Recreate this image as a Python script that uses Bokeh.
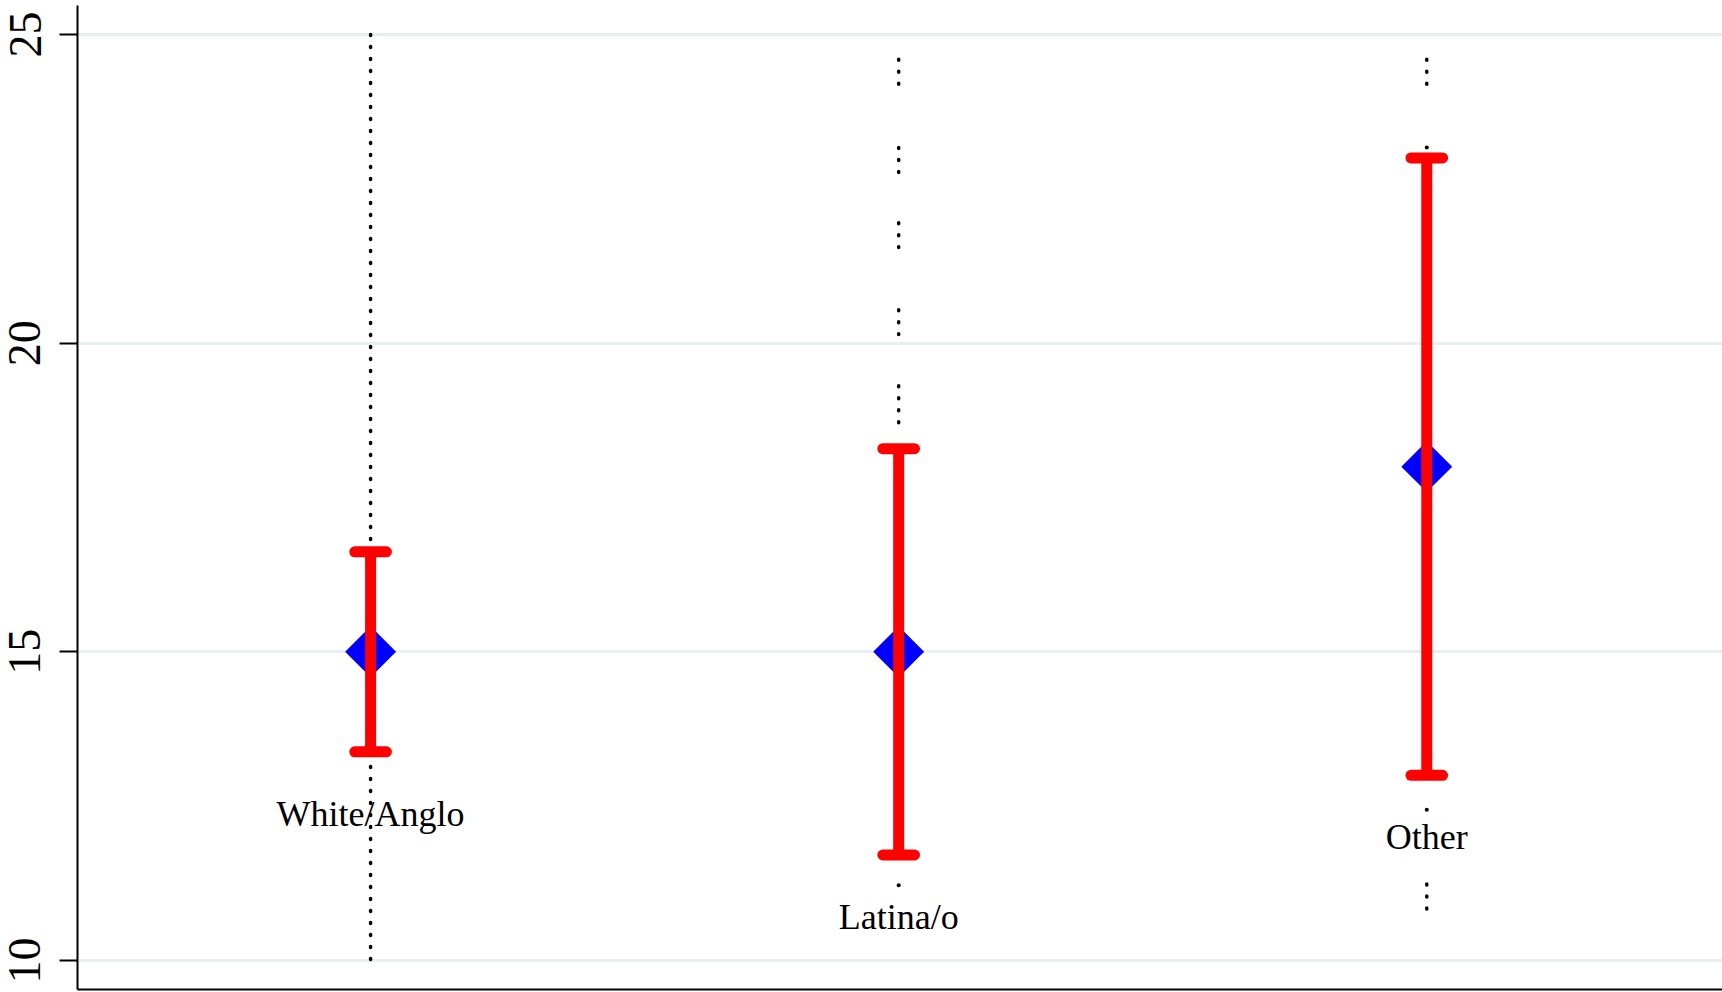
import math
from bokeh.plotting import figure
from bokeh.models import Range1d, FixedTicker, ColumnDataSource
from bokeh.core.properties import value
from bokeh.embed import file_html
from bokeh.resources import INLINE

# group means with 95% confidence bounds
groups = ["White/Anglo", "Latina/o", "Other"]
means = [15.0, 15.0, 18.0]
ci_low = [13.38, 11.71, 13.0]
ci_high = [16.62, 18.29, 23.0]

# dotted runs behind each group (top and bottom of each run)
run_group = [0, 1, 1, 1, 1, 1, 1, 2, 2, 2, 2]
run_top = [25.0, 24.6, 23.17, 21.95, 20.54, 19.31, 11.22, 24.6, 23.17, 12.44, 11.24]
run_bottom = [10.0, 24.19, 22.76, 21.55, 20.14, 18.70, 11.22, 24.19, 23.17, 12.44, 10.80]

y_ticks = [10, 15, 20, 25]

SERIF = "Liberation Serif"
CAP_HALF = 0.03
LABEL_DROP = 1.0

xpos = [i + 1 for i in range(len(groups))]

p = figure(width=1722, height=992, output_backend="svg", toolbar_location=None,
           x_range=Range1d(0.445, 3.56), y_range=Range1d(9.53, 25.47),
           min_border_left=77, min_border_right=0, min_border_top=5, min_border_bottom=3)
p.outline_line_color = None
p.background_fill_color = "white"
p.border_fill_color = "white"

# bottom axis: plain line, no ticks or labels
p.xaxis.ticker = FixedTicker(ticks=[])
p.xaxis.major_tick_out = 0
p.xaxis.major_tick_in = 0
p.xaxis.major_label_standoff = 0
p.xaxis.minor_tick_line_color = None
p.xaxis.axis_line_width = 2
p.xaxis.axis_line_color = "black"
p.xgrid.visible = False

# left axis
p.yaxis.ticker = FixedTicker(ticks=y_ticks)
p.yaxis.minor_tick_line_color = None
p.yaxis.major_tick_out = 18
p.yaxis.major_tick_in = 0
p.yaxis.major_tick_line_width = 2
p.yaxis.major_tick_line_color = "black"
p.yaxis.axis_line_width = 2
p.yaxis.axis_line_color = "black"
p.yaxis.major_label_orientation = "vertical"
p.yaxis.major_label_text_font = SERIF
p.yaxis.major_label_text_font_size = "46px"
p.yaxis.major_label_text_color = "black"
p.yaxis.major_label_standoff = 19
p.ygrid.ticker = FixedTicker(ticks=y_ticks)
p.ygrid.grid_line_color = "#e8eff0"
p.ygrid.grid_line_width = 3

# dotted runs
seg_x, seg_top, seg_bot, dot_x, dot_y = [], [], [], [], []
for g, t, b in zip(run_group, run_top, run_bottom):
    if t == b:
        dot_x.append(xpos[g]); dot_y.append(t)
    else:
        seg_x.append(xpos[g]); seg_top.append(t); seg_bot.append(b)
p.segment(x0=seg_x, y0=seg_top, x1=seg_x, y1=seg_bot, line_color="black",
          line_width=3.5, line_dash="1 11", line_cap="round")
p.scatter(x=dot_x, y=dot_y, marker="circle", size=4, fill_color="black", line_color=None)

# mean markers
p.scatter(x=xpos, y=means, marker="square", angle=math.pi / 4, size=36,
          fill_color="#0000ff", line_color=None)

# confidence intervals
p.segment(x0=xpos, y0=ci_low, x1=xpos, y1=ci_high, line_color="#ff0000", line_width=11)
cap_l = [x - CAP_HALF for x in xpos]
cap_r = [x + CAP_HALF for x in xpos]
p.segment(x0=cap_l, y0=ci_high, x1=cap_r, y1=ci_high, line_color="#ff0000",
          line_width=11, line_cap="round")
p.segment(x0=cap_l, y0=ci_low, x1=cap_r, y1=ci_low, line_color="#ff0000",
          line_width=11, line_cap="round")

# group labels under each interval
label_src = ColumnDataSource(dict(x=xpos, y=[lo - LABEL_DROP for lo in ci_low], text=groups))
p.text(x="x", y="y", text="text", source=label_src, text_align="center",
       text_baseline="middle", text_font=value(SERIF), text_font_size="36px",
       text_color="black")

open("out.html", "w").write(file_html(p, INLINE))
